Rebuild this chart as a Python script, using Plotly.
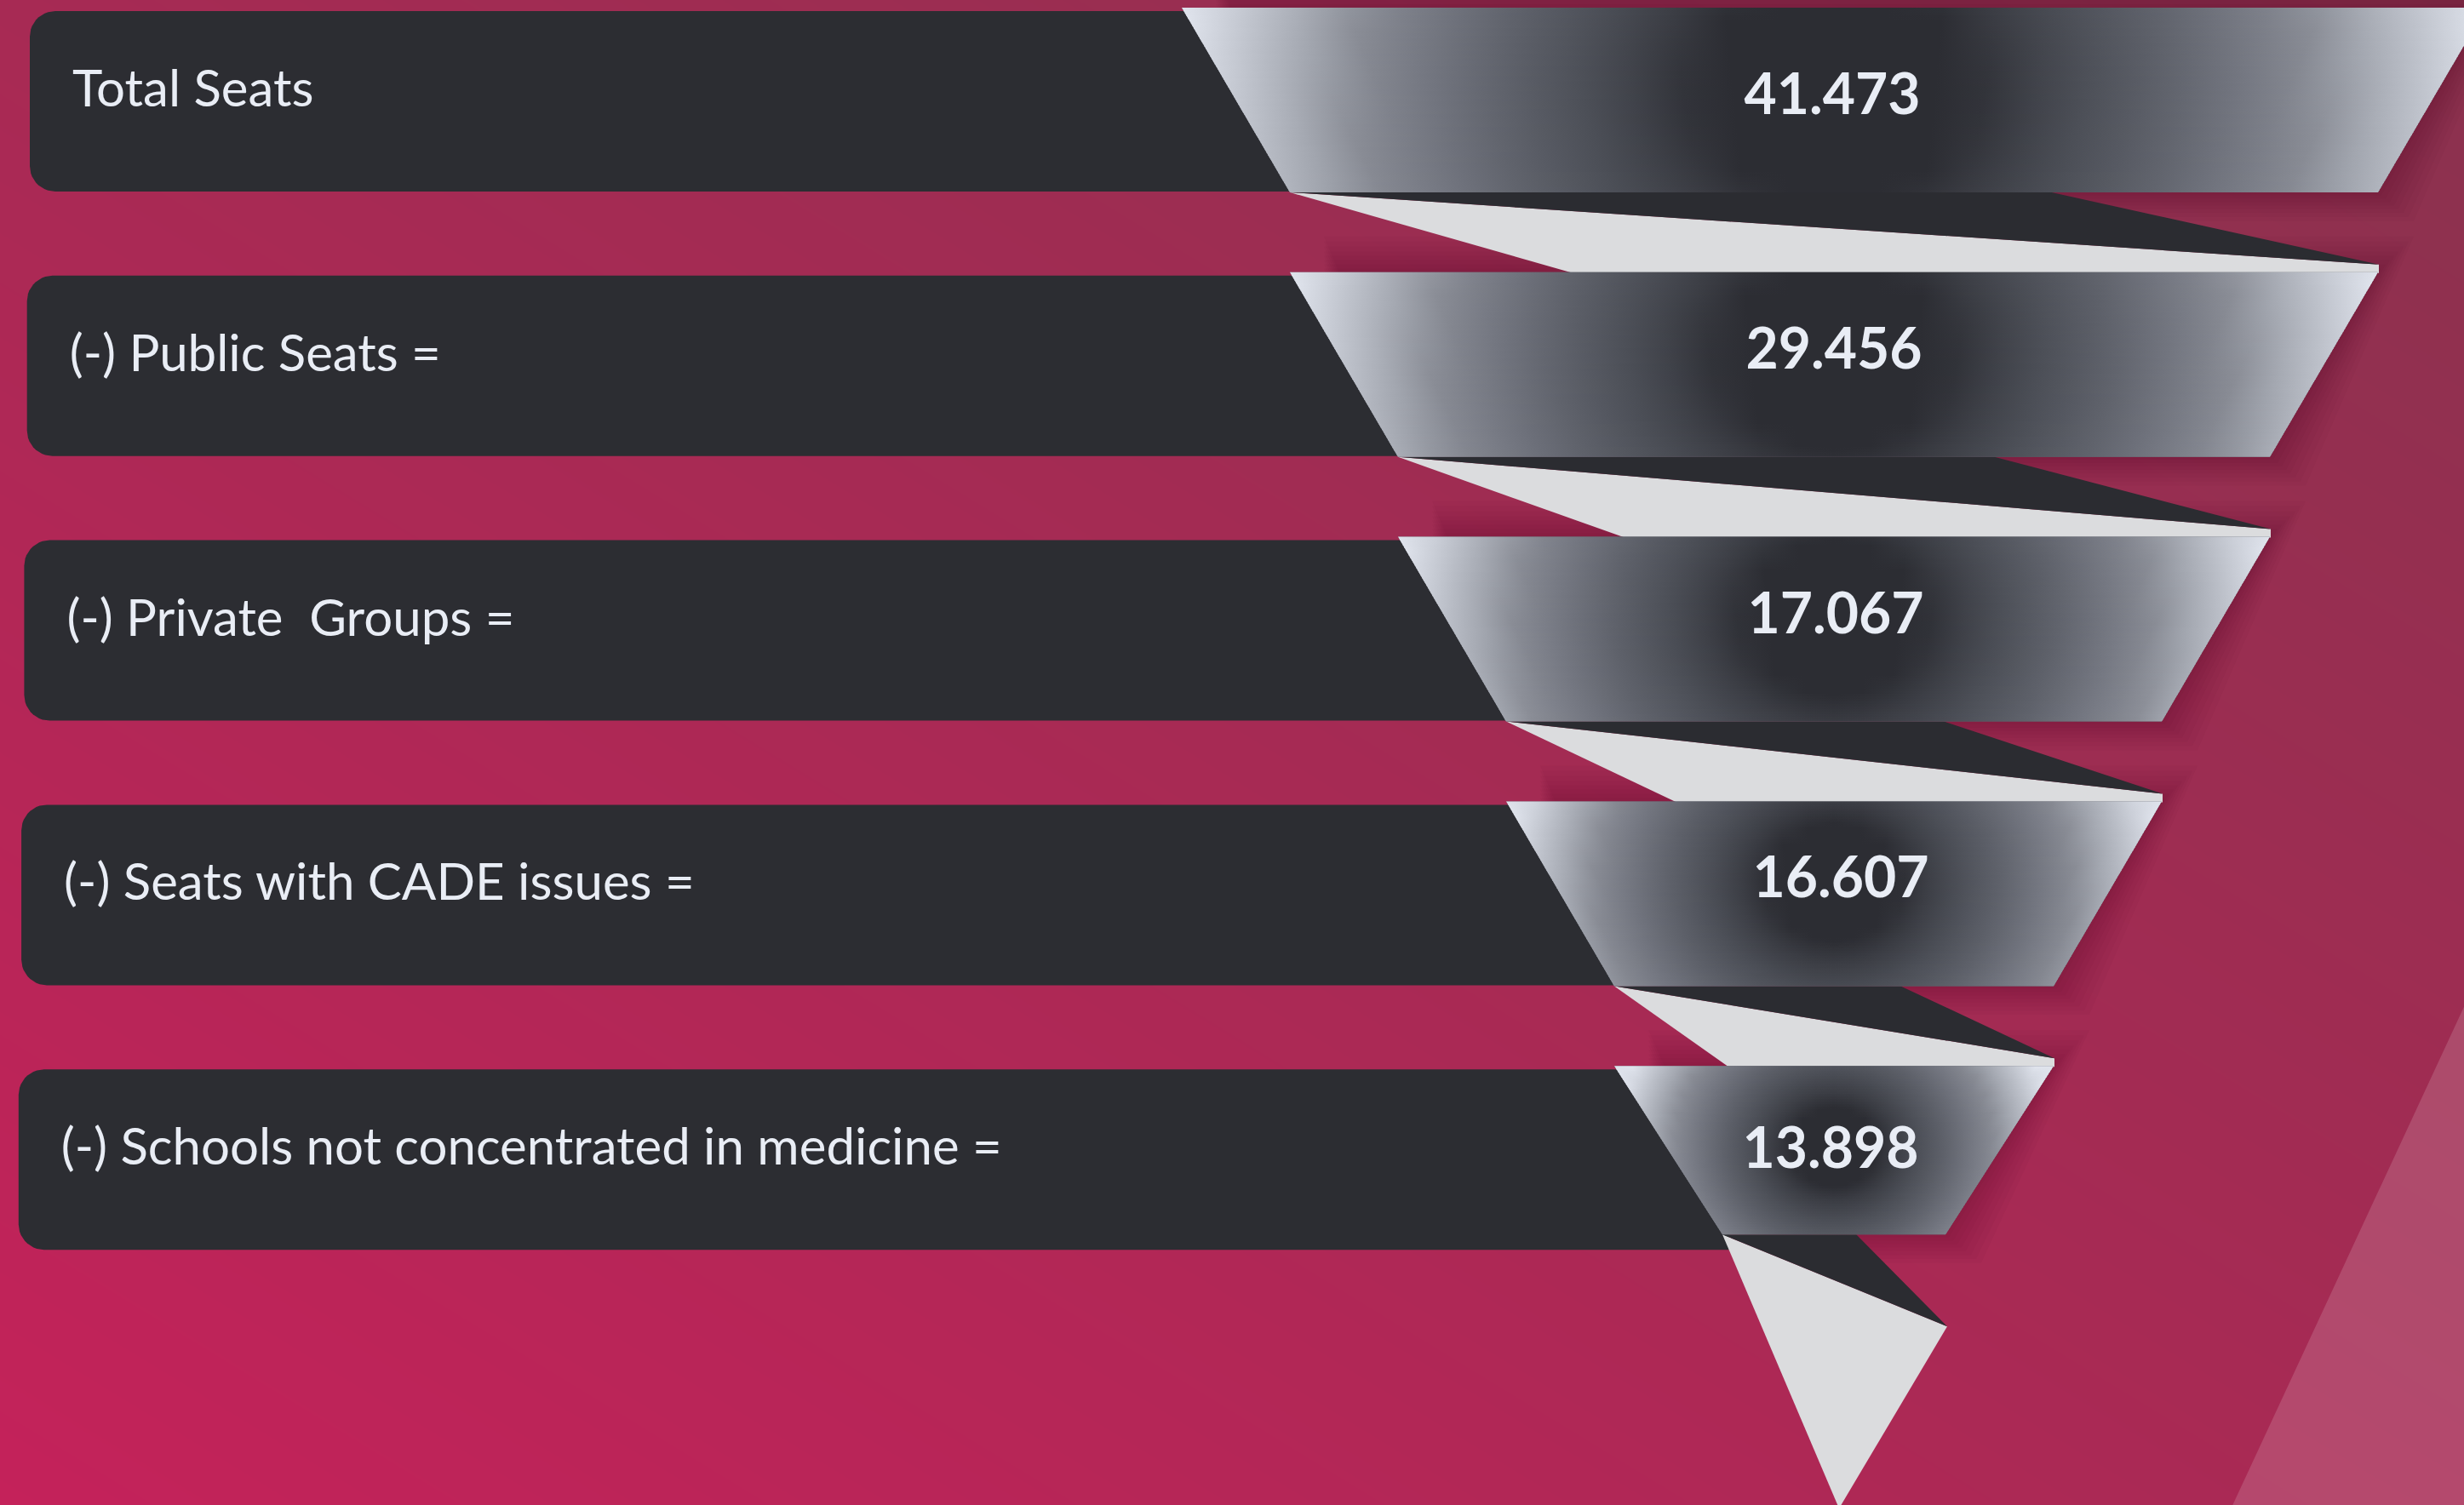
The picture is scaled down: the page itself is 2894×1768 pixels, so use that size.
import math
import numpy as np
import plotly.graph_objects as go

# ---------------- data ----------------
labels = [
    "Total Seats",
    "(-) Public Seats =",
    "(-) Private\u00a0 Groups =",
    "(-) Seats with CADE issues =",
    "(-) Schools not concentrated in medicine =",
]
values = [41473, 29456, 17067, 16607, 13898]
value_text = [f"{v:,}".replace(",", ".") for v in values]

# ---------------- layout / style constants ----------------
W, H = 2894, 1768
CX = 2154             # funnel centre line
ROW0, PITCH = 9, 310.8
SEG_H, LAST_SEG_H = 217, 198
HW0, HW_STEP = 766, 127
BAR_H, BAR_R = 212, 30
BAR_COLOR = "#2c2d32"
DARK = "#2b2c31"
LIGHT = "#dbdcde"
TEXT = "#e9edf5"
FONT = "Lato"
LABEL_DY = 101
VALUE_DY = [108, 97, 97, 96, 103]   # text placement inside each segment (style)
VALUE_DX = [-2, 0, 2, 8, -4]

n = len(values)
rows = [ROW0 + PITCH * i for i in range(n)]
seg_h = [SEG_H] * (n - 1) + [LAST_SEG_H]


def hw(level):
    return HW0 - HW_STEP * level


def hex2rgb(h):
    h = h.lstrip("#")
    return np.array([int(h[i:i + 2], 16) for i in (0, 2, 4)], float)


# radial profile of the silver segments (distance -> colour)
PROFILE = [(0.0, "#2c2d33"), (0.2, "#2c2d33"), (0.28, "#3c3e45"), (0.38, "#4c4f57"),
           (0.5, "#5e616a"), (0.62, "#737680"), (0.74, "#8a8d96"), (0.8, "#a0a4ad"),
           (0.87, "#b5b9c2"), (0.95, "#cfd3dc"), (1.0, "#dfe3ec")]
P_D = np.array([p[0] for p in PROFILE])
P_C = np.array([hex2rgb(p[1]) for p in PROFILE])


def prof(d):
    d = min(max(d, 0.0), 1.0)
    rgb = [np.interp(d, P_D, P_C[:, k]) for k in range(3)]
    return "rgb(%d,%d,%d)" % tuple(int(round(c)) for c in rgb)


fig = go.Figure()

# ---------------- background ----------------
gx = np.linspace(-80, W + 80, 14)
gy = np.linspace(-80, H + 80, 10)
Z = [[(x / W) + (1 - y / H) for x in gx] for y in gy]
fig.add_trace(go.Heatmap(x=gx, y=gy, z=Z, zmin=0, zmax=2, zsmooth="best",
                         colorscale=[[0, "#c4225a"], [1, "#8a324e"]],
                         showscale=False, hoverinfo="skip"))

# light diagonal band bottom-right
fig.add_trace(go.Scatter(x=[2620, W + 5, W + 5, 2620], y=[H + 5, 1183 - 11, H + 5, H + 5],
                         fill="toself", fillcolor="rgba(255,255,255,0.15)", mode="lines",
                         line=dict(width=0), hoverinfo="skip"))


def poly(xs, ys, color, **kw):
    fig.add_trace(go.Scatter(x=list(xs) + [xs[0]], y=list(ys) + [ys[0]], fill="toself",
                             fillcolor=color, mode="lines", line=dict(width=0),
                             hoverinfo="skip", **kw))


# ---------------- soft shadows (right / top side of segments) ----------------
for i in range(n):
    yt, yb = rows[i], rows[i] + seg_h[i]
    ht, hb = hw(i), hw(i + 1)
    for e in (4, 9, 14, 19, 24, 30, 36, 42):
        xs = [CX - ht + 40, CX + ht + e, CX + hb + e, CX, CX - hb + 20]
        ys = [yt - e, yt - e, yb + e * 0.8, yb + e * 0.8, yb]
        poly(xs, ys, "rgba(55,12,38,0.03)")

# ---------------- label bars ----------------
bar_x0 = [35 - 3.3 * i for i in range(n)]
for i in range(n):
    x0 = bar_x0[i]
    y0 = rows[i] + 4
    y1 = y0 + BAR_H
    x1 = CX - hw(i + 1) + 8
    th = np.linspace(0, math.pi / 2, 12)
    xs = list(x0 + BAR_R - BAR_R * np.cos(th)) + [x1, x1]
    ys = list(y0 + BAR_R - BAR_R * np.sin(th)) + [y0, y1]
    th2 = th[::-1]
    xs += list(x0 + BAR_R - BAR_R * np.cos(th2))
    ys += list(y1 - BAR_R + BAR_R * np.sin(th2))
    poly(xs, ys, BAR_COLOR)

# ---------------- connectors (folded ribbon) ----------------
for k in range(n - 1):
    yb = rows[k] + seg_h[k]
    yt2 = rows[k + 1]
    L, R = CX - hw(k + 1), CX + hw(k + 1)
    frac = 0.70 - 0.016 * k
    A = (L, yb)
    B = (L + frac * (R - L), yb)
    C = (R + 1, yt2 - 9)
    D = (R + 1, yt2 + 1)
    E = (L + 0.26 * (R - L), yt2 + 1)
    poly([A[0], C[0], D[0], E[0]], [A[1], C[1], D[1], E[1]], LIGHT)
    poly([A[0], B[0], C[0]], [A[1], B[1], C[1]], DARK)

# tip below the last segment
yb = rows[-1] + seg_h[-1]
L, R = CX - hw(n), CX + hw(n)
A = (L, yb)
B = (L + 0.6 * (R - L), yb)
C = (R + 2, yb + 108)
F = (CX + 6, H + 4)
poly([A[0], C[0], F[0]], [A[1], C[1], F[1]], LIGHT)
poly([A[0], B[0], C[0]], [A[1], B[1], C[1]], DARK)

# ---------------- silver funnel segments ----------------
K = 25
for i in range(n):
    yt, h = rows[i], seg_h[i]
    ht, hb = hw(i), hw(i + 1)
    rx = ht
    ry = 0.9 * rx
    cy = yt + 95

    def half(y):
        return ht + (hb - ht) * (y - yt) / h

    # base fill (hides strip seams)
    poly([CX - ht, CX + ht, CX + hb, CX - hb], [yt, yt, yt + h, yt + h], "#5e616a")
    ns = int(math.ceil(h / 3.0))
    for j in range(ns):
        ya = yt + j * h / ns
        yb_ = yt + (j + 1) * h / ns
        ye = min(yb_ + 1.5, yt + h)
        xa_l, xa_r = CX - half(ya), CX + half(ya)
        xe_l, xe_r = CX - half(ye), CX + half(ye)
        xmin, xmax = min(xa_l, xe_l), max(xa_r, xe_r)
        dy = ((ya + yb_) / 2 - cy) / ry
        cs = []
        for q in range(K):
            p = q / (K - 1)
            x = xmin + p * (xmax - xmin)
            d = math.hypot((x - CX) / rx, dy)
            cs.append([p, prof(d)])
        fig.add_trace(go.Scatter(
            x=[xa_l, xa_r, xe_r, xe_l, xa_l], y=[ya, ya, ye, ye, ya],
            fill="toself", mode="lines", line=dict(width=0), hoverinfo="skip",
            fillgradient=dict(type="horizontal", colorscale=cs, start=xmin, stop=xmax)))

# ---------------- texts ----------------
fig.add_trace(go.Scatter(
    x=[bar_x0[i] + 50 for i in range(n)], y=[rows[i] + LABEL_DY for i in range(n)],
    text=labels, mode="text", textposition="middle right", hoverinfo="skip",
    textfont=dict(family=FONT, size=60, color=TEXT)))
fig.add_trace(go.Scatter(
    x=[CX + VALUE_DX[i] for i in range(n)], y=[rows[i] + VALUE_DY[i] for i in range(n)],
    text=value_text, mode="text", textposition="middle center", hoverinfo="skip",
    textfont=dict(family=FONT, size=66, color=TEXT, weight="bold")))

fig.update_layout(
    width=W, height=H, margin=dict(l=0, r=0, t=0, b=0, pad=0),
    paper_bgcolor="#a82c58", plot_bgcolor="#a82c58", showlegend=False,
    xaxis=dict(range=[0, W], visible=False, fixedrange=True),
    yaxis=dict(range=[H, 0], visible=False, fixedrange=True),
)

fig.write_html("out.html", config={"displayModeBar": False},
               post_script="document.body.style.margin='0';document.body.style.overflow='hidden';")
